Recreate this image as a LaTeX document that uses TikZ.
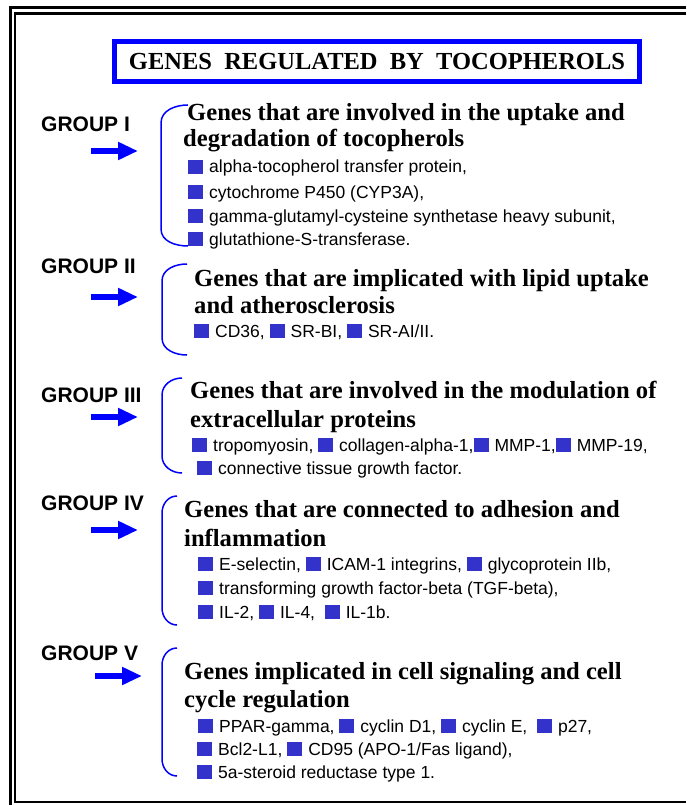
\documentclass[tikz,border=0pt]{standalone}
\usepackage{fontspec}
\setmainfont{Liberation Serif}
\setsansfont{Liberation Sans}
\usetikzlibrary{arrows.meta}
\definecolor{titleblue}{RGB}{0,0,255}
\definecolor{geneblue}{RGB}{51,51,204}
\newcommand{\gsq}{\textcolor{geneblue}{\rule[-1pt]{15pt}{14pt}}\hspace{6pt}}

\tikzset{
  grouplabel/.style={anchor=base west, inner sep=0pt, font=\sffamily\bfseries\fontsize{21}{24}\selectfont},
  headline/.style={anchor=base west, inner sep=0pt, font=\bfseries\fontsize{24.6}{28}\selectfont},
  geneline/.style={anchor=base west, inner sep=0pt, font=\sffamily\fontsize{17.5}{20}\selectfont},
  groupbrace/.style={draw=titleblue, line width=1.5pt},
  grouparrow/.style={draw=titleblue, line width=6pt, -{Triangle[length=20pt,width=17pt]}}
}

\begin{document}
\begin{tikzpicture}[x=1pt,y=-1pt]
            \useasboundingbox (0,0) rectangle (686,805);
            \draw[line width=3pt] (686,8) -- (10,8) -- (10,810);
            \draw[line width=2.5pt] (686,13.5) -- (15,13.5) -- (15,802) -- (686,802);

            \node[draw=titleblue, line width=5pt, minimum width=525pt, minimum height=40pt,
                  font=\bfseries\fontsize{24.5}{28}\selectfont] (title) at (377,61.5)
                  {GENES\ \ REGULATED\ \ BY\ \ TOCOPHEROLS};

            % group I
            \node[grouplabel] (g1) at (41,132) {GROUP I};
            \coordinate (a1s) at (91,151); \coordinate (a1e) at (138,151);
            \draw[grouparrow] (a1s) -- (a1e);
            \draw[groupbrace] (188,105) to[out=180,in=90] (161,123) -- (161,229) to[out=-90,in=180] (188,246);
            \node[headline] (h1a) at (187,121) {Genes that are involved in the uptake and};
            \node[headline] (h1b) at (183,147) {degradation of tocopherols};
            \node[geneline] (i1a) at (188,173) {\gsq alpha-tocopherol transfer protein,};
            \node[geneline] (i1b) at (188,198) {\gsq cytochrome P450 (CYP3A),};
            \node[geneline] (i1c) at (188,222) {\gsq gamma-glutamyl-cysteine synthetase heavy subunit,};
            \node[geneline] (i1d) at (188,245) {\gsq glutathione-S-transferase.};

            % group II
            \node[grouplabel] (g2) at (41,273) {GROUP II};
            \coordinate (a2s) at (91,297); \coordinate (a2e) at (138,297);
            \draw[grouparrow] (a2s) -- (a2e);
            \draw[groupbrace] (187,264) to[out=180,in=90] (162,281) -- (162,338) to[out=-90,in=180] (187,355);
            \node[headline] (h2a) at (194,286) {Genes that are implicated with lipid uptake};
            \node[headline] (h2b) at (194,313) {and atherosclerosis};
            \node[geneline] (i2a) at (194,337) {\gsq CD36, \gsq SR-BI, \gsq SR-AI/II.};

            % group III
            \node[grouplabel] (g3) at (41,402) {GROUP III};
            \coordinate (a3s) at (91,417); \coordinate (a3e) at (138,417);
            \draw[grouparrow] (a3s) -- (a3e);
            \draw[groupbrace] (182,378) to[out=180,in=90] (162,395) -- (162,456) to[out=-90,in=180] (182,473);
            \node[headline] (h3a) at (190,398) {Genes that are involved in the modulation of};
            \node[headline] (h3b) at (190,427) {extracellular proteins};
            \node[geneline] (i3a) at (192,451) {\gsq tropomyosin, \gsq collagen-alpha-1,\gsq MMP-1,\gsq MMP-19,};
            \node[geneline] (i3b) at (197,474) {\gsq connective tissue growth factor.};

            % group IV
            \node[grouplabel] (g4) at (41,510) {GROUP IV};
            \coordinate (a4s) at (91,530); \coordinate (a4e) at (138,530);
            \draw[grouparrow] (a4s) -- (a4e);
            \draw[groupbrace] (177,496) to[out=180,in=90] (162,513) -- (162,608) to[out=-90,in=180] (177,625);
            \node[headline] (h4a) at (184,517) {Genes that are connected to adhesion and};
            \node[headline] (h4b) at (184,546) {inflammation};
            \node[geneline] (i4a) at (198,570) {\gsq E-selectin, \gsq ICAM-1 integrins, \gsq glycoprotein IIb,};
            \node[geneline] (i4b) at (198,594) {\gsq transforming growth factor-beta (TGF-beta),};
            \node[geneline] (i4c) at (198,618) {\gsq IL-2, \gsq IL-4, \ \gsq IL-1b.};

            % group V
            \node[grouplabel] (g5) at (41,660) {GROUP V};
            \coordinate (a5s) at (95,676); \coordinate (a5e) at (142,676);
            \draw[grouparrow] (a5s) -- (a5e);
            \draw[groupbrace] (177,648) to[out=180,in=90] (162,665) -- (162,759) to[out=-90,in=180] (177,776);
            \node[headline] (h5a) at (184,679) {Genes implicated in cell signaling and cell};
            \node[headline] (h5b) at (184,707) {cycle regulation};
            \node[geneline] (i5a) at (198,732) {\gsq PPAR-gamma, \gsq cyclin D1, \gsq cyclin E, \ \gsq p27,};
            \node[geneline] (i5b) at (197,755) {\gsq Bcl2-L1, \gsq CD95 (APO-1/Fas ligand),};
            \node[geneline] (i5c) at (197,778) {\gsq 5a-steroid reductase type 1.};
\end{tikzpicture}
\end{document}
